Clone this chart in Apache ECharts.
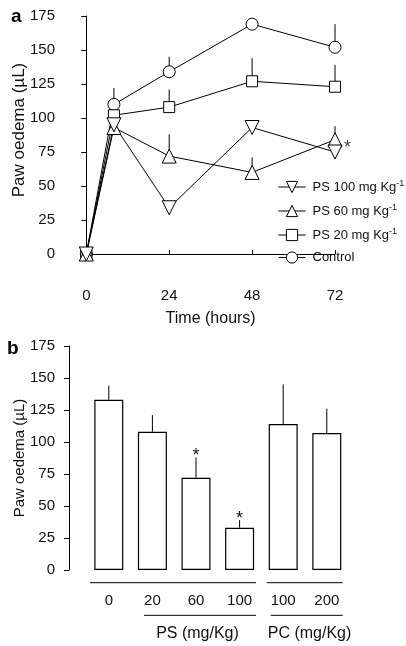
<!DOCTYPE html>
<html>
<head>
<meta charset="utf-8">
<script src="https://cdn.jsdelivr.net/npm/echarts@6/dist/echarts.min.js"></script>
<style>
html,body{margin:0;padding:0;background:#fff;}
#c{width:406px;height:646px;}
</style>
</head>
<body>
<div id="c"></div>
<script>
// ---- Panel a: time course ----
const hours = [0, 8, 24, 48, 72];
const ps100 = [0, 95, 34, 93, 75];
const ps60 = [0, 93, 72, 60, 84];
const ps20 = [0, 102, 108, 127, 123];
const control = [0, 110, 134, 169, 152];
const ps100Err = [0, 0, 0, 0, 0];
const ps60Err = [0, 0, 16, 11, 10];
const ps20Err = [0, 0, 13, 17, 16];
const controlErr = [0, 12, 11, 0, 17];
const yTicksTop = [0, 25, 50, 75, 100, 125, 150, 175];
const xTicksTop = [0, 24, 48, 72];
const starA = [[72, 78]];

// ---- Panel b: dose response ----
const doses = ['0', '20', '60', '100', '100', '200'];
const barMeans = [133, 108, 72, 33, 114, 107];
const barErr = [11, 13, 16, 6, 31, 19];
const barSig = ['', '', '*', '*', '', ''];

const FONT = 'Liberation Sans, Arial, Helvetica, sans-serif';
const INK = '#111';

function pairs(xs, ys) { return xs.map((x, i) => [x, ys[i]]); }
function errData(xs, ys, es) { return xs.map((x, i) => [x, ys[i], es[i], '']); }

function errRender(params, api) {
  const x = api.value(0), y = api.value(1), e = api.value(2);
  const sig = api.value(3);
  const p0 = api.coord([x, y]);
  const p1 = api.coord([x, y + e]);
  const children = [];
  if (e > 0) {
    children.push({
      type: 'line',
      shape: { x1: p0[0], y1: p0[1], x2: p1[0], y2: p1[1] },
      style: { stroke: '#000', lineWidth: 1 }
    });
  }
  if (sig) {
    children.push({
      type: 'text',
      style: { text: sig, x: p1[0], y: p1[1] - 1, align: 'center', verticalAlign: 'middle',
               font: '18px ' + FONT, fill: INK }
    });
  }
  return { type: 'group', children: children };
}

const names = ['PS 100 mg Kg-1', 'PS 60 mg Kg-1', 'PS 20 mg Kg-1', 'Control'];
const symStyle = { color: '#fff', borderColor: '#000', borderWidth: 1 };

function lineSeries(name, data, symbol, size, rot) {
  return {
    type: 'line', name: name, data: pairs(hours, data),
    xAxisIndex: 0, yAxisIndex: 0,
    symbol: symbol, symbolSize: size, symbolRotate: rot || 0,
    showAllSymbol: true, clip: false,
    lineStyle: { color: '#000', width: 1 },
    itemStyle: symStyle,
    emphasis: { disabled: true },
    z: 3
  };
}
function errSeries(ys, es, xi, yi) {
  return {
    type: 'custom', renderItem: errRender, xAxisIndex: xi, yAxisIndex: yi,
    data: errData(hours, ys, es), clip: false, z: 2, silent: true
  };
}

const bData = doses.map((d, i) => [i, barMeans[i], barErr[i], barSig[i]]);

const option = {
  animation: false,
  backgroundColor: '#fff',
  textStyle: { fontFamily: FONT, color: INK },
  grid: [
    { left: 86.3, width: 248.7, top: 16, height: 238, containLabel: false, outerBoundsMode: 'none' },
    { left: 87, width: 261.6, top: 346, height: 224, containLabel: false, outerBoundsMode: 'none' }
  ],
  xAxis: [
    {
      type: 'value', gridIndex: 0, min: 0, max: 72, interval: 24,
      offset: 18,
      axisLine: { show: true, lineStyle: { color: '#000', width: 1 } },
      axisTick: { show: true, inside: true, length: 4, lineStyle: { color: '#000' } },
      axisLabel: { fontSize: 15, color: INK, margin: 16, fontFamily: FONT },
      splitLine: { show: false },
      name: 'Time (hours)', nameLocation: 'middle', nameGap: 39, nameMoveOverlap: false,
      nameTextStyle: { fontSize: 16, color: INK, fontFamily: FONT }
    },
    {
      type: 'category', gridIndex: 1, data: doses,
      axisLine: { show: false }, axisTick: { show: false },
      axisLabel: { fontSize: 15, color: INK, margin: 23, fontFamily: FONT }
    }
  ],
  yAxis: [
    {
      type: 'value', gridIndex: 0, min: 0, max: 175, interval: 25, offset: 17.3,
      axisLine: { show: true, lineStyle: { color: '#000', width: 1 } },
      axisTick: { show: true, length: 5, lineStyle: { color: '#000' } },
      axisLabel: { fontSize: 15, color: INK, margin: 14, fontFamily: FONT },
      splitLine: { show: false },
      name: 'Paw oedema (\u00b5L)', nameLocation: 'middle', nameGap: 41, nameRotate: 90,
      nameMoveOverlap: false,
      nameTextStyle: { fontSize: 17, color: INK, fontFamily: FONT, padding: [0, 0, 0, 10] }
    },
    {
      type: 'value', gridIndex: 1, min: 0, max: 175, interval: 25, offset: 18,
      axisLine: { show: true, lineStyle: { color: '#000', width: 1 } },
      axisTick: { show: true, length: 5, lineStyle: { color: '#000' } },
      axisLabel: { fontSize: 15, color: INK, margin: 14, fontFamily: FONT },
      splitLine: { show: false },
      name: 'Paw oedema (\u00b5L)', nameLocation: 'middle', nameGap: 42, nameRotate: 90,
      nameMoveOverlap: false,
      nameTextStyle: { fontSize: 15, color: INK, fontFamily: FONT }
    }
  ],
  legend: {
    data: names, orient: 'vertical', left: 278, top: 179, padding: 0,
    itemWidth: 27, itemHeight: 14, itemGap: 9.5,
    selectedMode: false,
    lineStyle: { width: 1, color: '#000' },
    itemStyle: { color: '#fff', borderColor: '#000', borderWidth: 1 },
    formatter: function (n) { return n.replace('Kg-1', 'Kg{sup|-1}'); },
    textStyle: {
      fontSize: 13, color: INK, fontFamily: FONT, padding: [0, 0, 0, 2],
      rich: { sup: { fontSize: 9, fontFamily: FONT, color: INK, padding: [0, 0, 7, 0] } }
    }
  },
  series: [
    errSeries(control, controlErr, 0, 0),
    errSeries(ps20, ps20Err, 0, 0),
    errSeries(ps60, ps60Err, 0, 0),
    errSeries(ps100, ps100Err, 0, 0),
    lineSeries(names[3], control, 'circle', 12),
    lineSeries(names[2], ps20, 'rect', 11),
    lineSeries(names[1], ps60, 'triangle', 14),
    lineSeries(names[0], ps100, 'triangle', 14, 180),
    {
      type: 'scatter', xAxisIndex: 0, yAxisIndex: 0, data: starA,
      symbolSize: 0, silent: true, clip: false,
      label: { show: true, formatter: '*', position: 'right', distance: 9,
               fontSize: 18, color: INK, fontFamily: FONT }
    },
    {
      type: 'bar', xAxisIndex: 1, yAxisIndex: 1, data: barMeans, barWidth: 29,
      itemStyle: { color: '#fff', borderColor: '#000', borderWidth: 1.2 },
      emphasis: { disabled: true }, z: 2
    },
    {
      type: 'custom', renderItem: errRender, xAxisIndex: 1, yAxisIndex: 1,
      data: bData, z: 3, silent: true, clip: false
    }
  ],
  graphic: [
    { type: 'text', left: 11, top: 7, style: { text: 'a', font: 'bold 19px ' + FONT, fill: '#000' } },
    { type: 'text', left: 7, top: 339, style: { text: 'b', font: 'bold 19px ' + FONT, fill: '#000' } },
    { type: 'line', shape: { x1: 90, y1: 582.7, x2: 256, y2: 582.7 }, style: { stroke: '#000', lineWidth: 1 } },
    { type: 'line', shape: { x1: 266.7, y1: 582.7, x2: 342.7, y2: 582.7 }, style: { stroke: '#000', lineWidth: 1 } },
    { type: 'line', shape: { x1: 144, y1: 615.3, x2: 256, y2: 615.3 }, style: { stroke: '#000', lineWidth: 1 } },
    { type: 'line', shape: { x1: 270.7, y1: 615.3, x2: 342.7, y2: 615.3 }, style: { stroke: '#000', lineWidth: 1 } },
    { type: 'text', x: 197.5, y: 634, style: { text: 'PS (mg/Kg)', font: '16px ' + FONT, fill: INK, align: 'center', verticalAlign: 'middle' } },
    { type: 'text', x: 309.5, y: 634, style: { text: 'PC (mg/Kg)', font: '16px ' + FONT, fill: INK, align: 'center', verticalAlign: 'middle' } }
  ]
};

const chart = echarts.init(document.getElementById('c'), null, { renderer: 'canvas' });
chart.setOption(option);
</script>
</body>
</html>
